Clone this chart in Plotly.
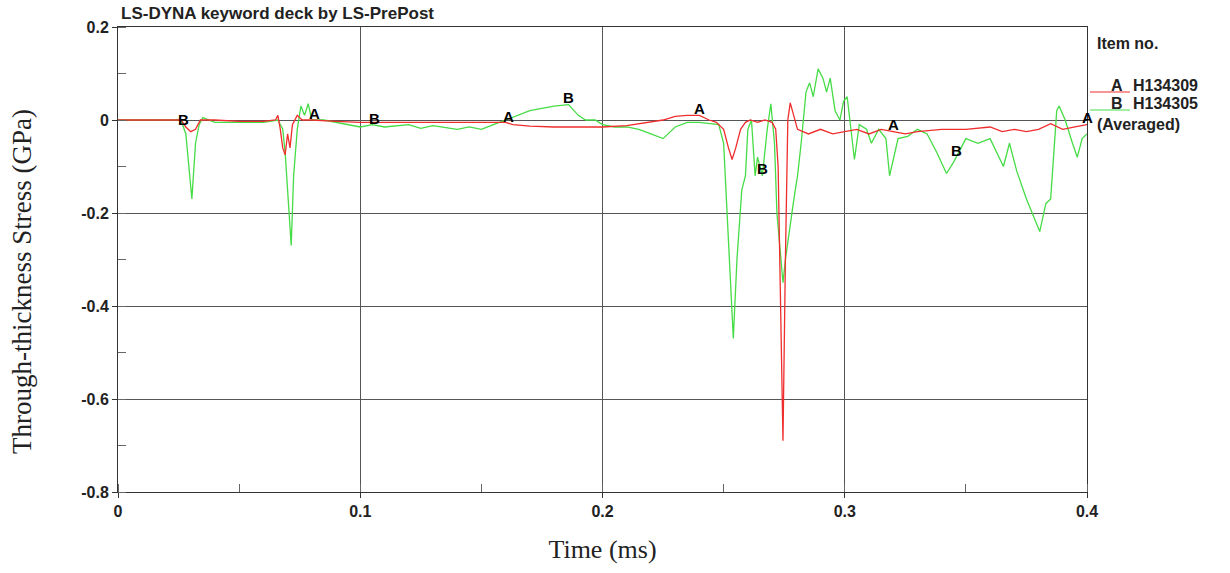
import numpy as np
import plotly.graph_objects as go

# ---- data ----
time_a = [0, 0.02, 0.026, 0.028, 0.030, 0.032, 0.034, 0.04, 0.05, 0.06, 0.065, 0.066, 0.067, 0.068,
          0.069, 0.070, 0.071, 0.072, 0.074, 0.076, 0.08, 0.09, 0.10, 0.12, 0.14, 0.16, 0.163, 0.17,
          0.18, 0.19, 0.2, 0.21, 0.22, 0.225, 0.23, 0.235, 0.24, 0.244, 0.247, 0.25, 0.252, 0.2535,
          0.255, 0.257, 0.259, 0.261, 0.264, 0.267, 0.270, 0.2715, 0.2725, 0.2735, 0.2745, 0.2755,
          0.2765, 0.2775, 0.279, 0.2805, 0.285, 0.29, 0.295, 0.3, 0.305, 0.31, 0.315, 0.32, 0.325,
          0.33, 0.34, 0.35, 0.36, 0.365, 0.37, 0.375, 0.38, 0.385, 0.39, 0.395, 0.4]
stress_a = [0, 0.0, 0.0, -0.015, -0.025, -0.02, 0.0, 0.0, -0.003, -0.003, 0.0, 0.01, -0.02, -0.06,
            -0.075, -0.03, -0.06, -0.01, 0.01, 0.0, 0.0, -0.003, -0.005, -0.005, -0.005, -0.005, -0.01, -0.013,
            -0.015, -0.015, -0.015, -0.012, -0.005, 0.0, 0.008, 0.01, 0.01, 0.0, -0.005, -0.02, -0.06, -0.085,
            -0.06, -0.02, -0.005, 0.0, -0.005, 0.0, -0.005, -0.02, -0.1, -0.4, -0.69, -0.3,
            0.0, 0.037, 0.01, -0.02, -0.03, -0.02, -0.03, -0.025, -0.02, -0.03, -0.02, -0.025, -0.03,
            -0.025, -0.02, -0.02, -0.015, -0.025, -0.02, -0.025, -0.02, -0.008, -0.02, -0.015, -0.01]

time_b = [0, 0.01, 0.02, 0.026, 0.028, 0.0305, 0.032, 0.0335, 0.035, 0.04, 0.05, 0.06, 0.066, 0.068,
          0.069, 0.0705, 0.0715, 0.0725, 0.074, 0.0755, 0.077, 0.0785, 0.080, 0.085, 0.09, 0.095, 0.10,
          0.105, 0.11, 0.12, 0.125, 0.13, 0.14, 0.145, 0.15, 0.155, 0.16, 0.165, 0.17, 0.175, 0.18,
          0.186, 0.19, 0.193, 0.197, 0.20, 0.205, 0.21, 0.215, 0.22, 0.225, 0.23, 0.235, 0.24, 0.245,
          0.248, 0.250, 0.252, 0.254, 0.2555, 0.2575, 0.259, 0.260, 0.2615, 0.263, 0.264, 0.266, 0.268,
          0.2695, 0.271, 0.272, 0.273, 0.2745, 0.2755, 0.2775, 0.279, 0.2805, 0.282, 0.284, 0.2855,
          0.287, 0.289, 0.291, 0.2925, 0.294, 0.296, 0.298, 0.2995, 0.301, 0.3025, 0.304, 0.306, 0.309,
          0.311, 0.314, 0.317, 0.3185, 0.322, 0.326, 0.330, 0.334, 0.338, 0.342, 0.345, 0.347, 0.35,
          0.355, 0.36, 0.3655, 0.368, 0.371, 0.375, 0.3805, 0.383, 0.385, 0.3875, 0.3885, 0.391, 0.394,
          0.396, 0.398, 0.4]
stress_b = [0, 0.0, 0.0, 0.0, -0.03, -0.17, -0.05, -0.01, 0.005, -0.005, -0.005, -0.005, 0.0, -0.02,
            -0.07, -0.2, -0.27, -0.12, -0.02, 0.03, 0.01, 0.035, 0.0, 0.0, -0.005, -0.01, -0.015,
            -0.01, -0.015, -0.01, -0.018, -0.012, -0.02, -0.015, -0.02, -0.01, 0.0, 0.01, 0.02, 0.025, 0.03,
            0.033, 0.01, 0.0, 0.0, -0.01, -0.015, -0.015, -0.02, -0.03, -0.04, -0.015, -0.005, -0.005, -0.008,
            -0.01, -0.05, -0.25, -0.47, -0.3, -0.15, -0.12, -0.02, 0.0, -0.12, -0.08, -0.12, -0.02,
            0.035, -0.05, -0.2, -0.26, -0.35, -0.3, -0.22, -0.17, -0.12, -0.05, 0.06, 0.08,
            0.05, 0.11, 0.09, 0.06, 0.09, 0.02, 0.0, 0.04, 0.05, -0.02, -0.085, -0.01, -0.02,
            -0.05, -0.02, -0.04, -0.12, -0.04, -0.035, -0.02, -0.03, -0.07, -0.115, -0.09, -0.07, -0.04,
            -0.05, -0.04, -0.1, -0.05, -0.11, -0.17, -0.24, -0.18, -0.17, 0.02, 0.03, 0.0, -0.05,
            -0.08, -0.04, -0.03]

label_times_a = [0.081, 0.161, 0.240, 0.320, 0.400]
label_times_b = [0.027, 0.106, 0.186, 0.266, 0.346]

x_ticks = [0, 0.1, 0.2, 0.3, 0.4]
x_tick_text = ["0", "0.1", "0.2", "0.3", "0.4"]
y_ticks = [0.2, 0, -0.2, -0.4, -0.6, -0.8]
y_tick_text = ["0.2", "0", "-0.2", "-0.4", "-0.6", "-0.8"]

title_text = "LS-DYNA keyword deck by LS-PrePost"
x_title = "Time (ms)"
y_title = "Through-thickness Stress (GPa)"
legend_header = "Item no."
legend_items = [("A", "H134309"), ("B", "H134305")]
legend_footer = "(Averaged)"

RED = "rgb(240,45,45)"
GREEN = "rgb(70,220,70)"

# ---- figure ----
W, H = 1230, 573
L, R, T, B = 118, 143, 27, 81
pw, ph = W - L - R, H - T - B


def px(x):
    return (x - L) / pw


def py(y):
    return (H - B - y) / ph


fig = go.Figure()
fig.add_trace(go.Scatter(x=time_b, y=stress_b, mode="lines", line=dict(color=GREEN, width=1.3),
                         name="B H134305", showlegend=False))
fig.add_trace(go.Scatter(x=time_a, y=stress_a, mode="lines", line=dict(color=RED, width=1.3),
                         name="A H134309", showlegend=False))

lab_font = dict(family="Liberation Sans, Arial", size=15, color="black", weight="bold")
for t in label_times_a:
    fig.add_annotation(x=t, y=float(np.interp(t, time_a, stress_a)), text="A", showarrow=False,
                       font=lab_font, yshift=7)
for t in label_times_b:
    fig.add_annotation(x=t, y=float(np.interp(t, time_b, stress_b)), text="B", showarrow=False,
                       font=lab_font, yshift=7)

# title
fig.add_annotation(x=px(119), y=py(13), xref="paper", yref="paper", xanchor="left", yanchor="middle",
                   text=title_text, showarrow=False,
                   font=dict(family="Liberation Sans, Arial", size=17, color="#222", weight="bold"))

# y-axis title (placed as rotated text, slightly below plot centre as in the original)
fig.add_annotation(x=px(22), y=py(282), xref="paper", yref="paper", xanchor="center", yanchor="middle",
                   text=y_title, showarrow=False, textangle=-90,
                   font=dict(family="Liberation Serif, Times New Roman", size=27, color="#222"))

# legend
leg_font = dict(family="Liberation Sans, Arial", size=16, color="#222", weight="bold")
fig.add_annotation(x=px(1095), y=py(43), xref="paper", yref="paper", xanchor="left", yanchor="middle",
                   text=legend_header, showarrow=False, font=leg_font)
for i, ((letter, name), col) in enumerate(zip(legend_items, [RED, GREEN])):
    yy = 85 + i * 18
    fig.add_annotation(x=px(1109), y=py(yy), xref="paper", yref="paper", xanchor="left", yanchor="middle",
                       text=letter, showarrow=False, font=leg_font)
    fig.add_annotation(x=px(1131), y=py(yy), xref="paper", yref="paper", xanchor="left", yanchor="middle",
                       text=name, showarrow=False, font=leg_font)
    fig.add_shape(type="line", xref="paper", yref="paper", x0=px(1090), x1=px(1130),
                  y0=py(yy + 7), y1=py(yy + 7), line=dict(color=col, width=1))
fig.add_annotation(x=px(1095), y=py(124), xref="paper", yref="paper", xanchor="left", yanchor="middle",
                   text=legend_footer, showarrow=False, font=leg_font)

tick_font = dict(family="Liberation Sans, Arial", size=16, color="#222", weight="bold")
fig.update_xaxes(range=[0, 0.4], tickvals=x_ticks, ticktext=x_tick_text, tickfont=tick_font,
                 showline=True, linecolor="#333", linewidth=1, mirror=True,
                 showgrid=True, gridcolor="#555", gridwidth=1, zeroline=False,
                 ticks="outside", ticklen=5, tickcolor="#333",
                 minor=dict(dtick=0.05, tick0=0, ticks="inside", ticklen=8, tickcolor="#666", showgrid=False),
                 title=dict(text=x_title, font=dict(family="Liberation Serif, Times New Roman", size=26, color="#222"),
                            standoff=20))
fig.update_yaxes(range=[-0.8, 0.2], tickvals=y_ticks, ticktext=y_tick_text, tickfont=tick_font,
                 showline=True, linecolor="#333", linewidth=1, mirror=True,
                 showgrid=True, gridcolor="#555", gridwidth=1, zeroline=False,
                 ticks="outside", ticklen=5, tickcolor="#333",
                 minor=dict(dtick=0.1, tick0=0, ticks="inside", ticklen=8, tickcolor="#666", showgrid=False))

fig.update_layout(width=W, height=H, margin=dict(l=L, r=R, t=T, b=B),
                  plot_bgcolor="white", paper_bgcolor="white", showlegend=False)

fig.write_html("out.html")
